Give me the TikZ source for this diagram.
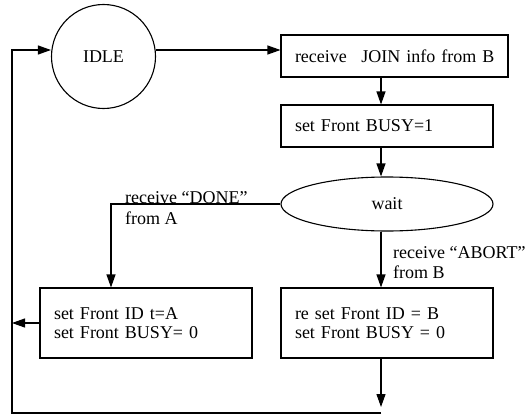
\documentclass[tikz,border=0pt]{standalone}
\usepackage{fontspec}
\setmainfont{Liberation Serif}
\usetikzlibrary{arrows.meta,shapes.geometric}
\begin{document}
\begin{tikzpicture}[x=1pt,y=-1pt,
  every node/.style={font=\fontsize{18}{19}\selectfont},
  ln/.style={line width=1.1pt,draw=black},
  arr/.style={ln,-{Triangle[length=13pt,width=9pt]}},
  boxx/.style={ln,rectangle,inner xsep=14pt,inner ysep=0pt,align=left},
  lbl/.style={anchor=base west,inner sep=0pt}]
\useasboundingbox (0,0) rectangle (527,415);
\node[ln,circle,minimum size=104pt,inner sep=0pt] (idle) at (103.5,56.5) {IDLE};
\node[boxx,text width=199pt,minimum height=42pt] (b1) at (394.5,56) {\mbox{receive\hspace{0.8em}JOIN info from B}};
\node[boxx,text width=184pt,minimum height=42pt] (b2) at (387,126) {\mbox{set Front BUSY=1}};
\node[ln,ellipse,minimum width=212pt,minimum height=54pt,inner sep=0pt] (wait) at (387,204) {wait};
\node[boxx,text width=184pt,minimum height=70pt] (b3) at (146,323) {\mbox{set Front ID t=A}\\\mbox{set Front BUSY= 0}};
\node[boxx,text width=184pt,minimum height=70pt] (b4) at (387,323) {\mbox{re set Front ID = B}\\\mbox{set Front BUSY = 0}};
\node[lbl] (ldone) at (125,203) {receive “DONE”};
\node[lbl] (lfroma) at (125,224) {from A};
\node[lbl] (labort) at (393,258) {receive “ABORT”};
\node[lbl] (lfromb) at (393,278) {from B};
\coordinate (col) at (381,0);
\coordinate (lcol) at (111,0);
\coordinate (lx) at (12,0);
\coordinate (top) at (0,50);
\coordinate (bot) at (381,413);
\draw[arr] (idle.east |- top) -- (b1.west |- top);
\draw[arr] (b1.south -| col) -- (b2.north -| col);
\draw[arr] (b2.south -| col) -- (wait.north -| col);
\draw[arr] (wait.west) -| (b3.north -| lcol);
\draw[arr] (wait.south -| col) -- (b4.north -| col);
\draw[arr] (b3.west) -- (b3.west -| lx);
\draw[arr] (b4.south -| col) -- ([yshift=6pt]bot);
\draw[arr] (bot) -- (bot -| lx) -- (lx |- top) -- (idle.west |- top);
\end{tikzpicture}
\end{document}
